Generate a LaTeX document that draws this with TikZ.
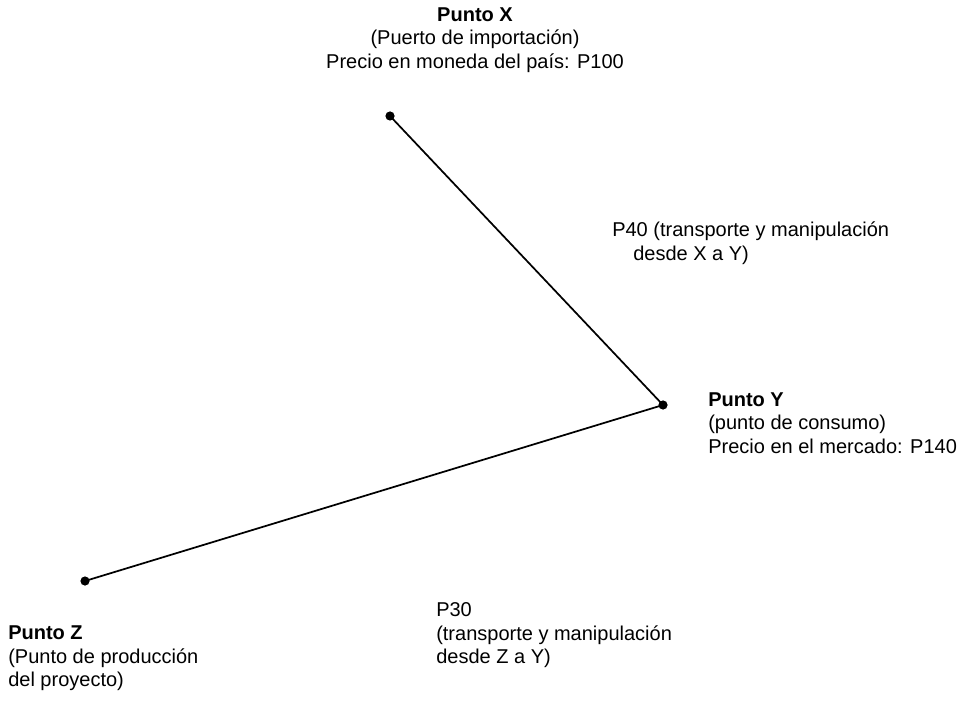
\documentclass[tikz,border=0pt]{standalone}
\usepackage{fontspec}
\setmainfont{Liberation Sans}
\begin{document}
\begin{tikzpicture}[x=0.75pt,y=-0.75pt,
        txt/.style={font=\fontsize{15}{17.6}\selectfont,inner sep=0pt,align=left,anchor=north west}]
    \useasboundingbox (0,0) rectangle (969,705);

    % puntos
    \coordinate (X) at (390,116);
    \coordinate (Y) at (663,405);
    \coordinate (Z) at (85,581);

    \begin{scope}[line width=1.3pt]
        \draw (X) -- (Y);
        \draw (Z) -- (Y);
    \end{scope}
    \begin{scope}[radius=4.6]
        \fill (X) circle;
        \fill (Y) circle;
        \fill (Z) circle;
    \end{scope}

    % textos
    \node[txt,align=center,anchor=north] (labX) at (475,7.5)
        {\textbf{Punto X}\\(Puerto de importación)\\Precio en moneda del país: P100};
    \node[txt] (labY) at (708,392.5)
        {\textbf{Punto Y}\\(punto de consumo)\\Precio en el mercado: P140};
    \node[txt] (labZ) at (8,625.5)
        {\textbf{Punto Z}\\(Punto de producción\\del proyecto)};
    \node[txt] (costXY) at (612,222)
        {P40 (transporte y manipulación\\\hspace*{1.05em}desde X a Y)};
    \node[txt] (costZY) at (436,602.5)
        {P30\\(transporte y manipulación\\desde Z a Y)};
\end{tikzpicture}
\end{document}
